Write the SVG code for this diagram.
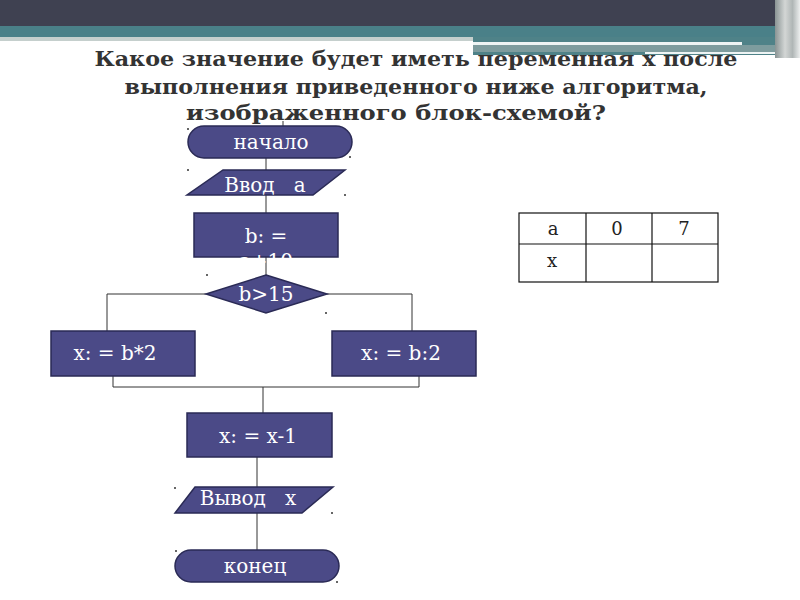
<svg xmlns="http://www.w3.org/2000/svg" width="800" height="600" viewBox="0 0 800 600">
  <defs>
    <linearGradient id="edge" x1="0" y1="0" x2="1" y2="0">
      <stop offset="0" stop-color="#8a9494"/>
      <stop offset="0.4" stop-color="#d3d6d5"/>
      <stop offset="0.7" stop-color="#b0b6b6"/>
      <stop offset="1" stop-color="#eceeee"/>
    </linearGradient>
  </defs>
  <style>
    .shape { fill: #4b4a87; stroke: #2a2a55; stroke-width: 1.5; }
    .lbl { font-family: "DejaVu Serif", "Liberation Serif", serif; font-size: 20px; fill: #ffffff; text-anchor: middle; }
    .title { font-family: "DejaVu Serif", "Liberation Serif", serif; font-size: 20px; font-weight: bold; fill: #333333; text-anchor: middle; }
    .conn { stroke: #333333; stroke-width: 1; fill: none; }
    .cell { font-family: "DejaVu Serif", "Liberation Serif", serif; font-size: 18px; fill: #222222; text-anchor: middle; }
    .grid { stroke: #111111; stroke-width: 1.2; fill: none; }
    .dot { fill: #333333; }
  </style>

  <rect width="800" height="600" fill="#ffffff"/>

  <!-- header bands -->
  <g id="header">
    <rect x="0" y="0" width="800" height="27" fill="#3f4151"/>
    <rect x="0" y="26" width="775" height="11" fill="#4a8088"/>
    <rect x="0" y="37" width="473" height="4" fill="#c5cfcd"/>
    <rect x="473" y="37" width="302" height="18" fill="#4f8288"/>
    <rect x="473" y="45" width="302" height="7" fill="#7e9c9e"/>
    <rect x="473" y="42" width="269" height="3" fill="#eef4f4"/>
    <rect x="645" y="52" width="140" height="2" fill="#eef4f4"/>
    <rect x="775" y="0" width="25" height="58" fill="url(#edge)"/>
  </g>

  <!-- title -->
  <g id="title">
    <text class="title" x="416" y="66" textLength="643" lengthAdjust="spacingAndGlyphs">Какое значение будет иметь переменная x после</text>
    <text class="title" x="416" y="94" textLength="583" lengthAdjust="spacingAndGlyphs">выполнения приведенного ниже алгоритма,</text>
    <text class="title" x="396" y="120" textLength="420" lengthAdjust="spacingAndGlyphs">изображенного блок-схемой?</text>
  </g>

  <!-- connectors -->
  <g id="connectors">
    <line class="conn" x1="283" y1="121" x2="283" y2="126"/>
    <line class="conn" x1="266" y1="158" x2="266" y2="213"/>
    <line class="conn" x1="266" y1="257" x2="266" y2="275"/>
    <polyline class="conn" points="206,294 107,294 107,331"/>
    <polyline class="conn" points="327,294 412,294 412,331"/>
    <polyline class="conn" points="113,376 113,387 419,387 419,376"/>
    <line class="conn" x1="263" y1="387" x2="263" y2="413"/>
    <line class="conn" x1="257" y1="457" x2="257" y2="487"/>
    <line class="conn" x1="257" y1="513" x2="257" y2="550"/>
  </g>

  <!-- nodes -->
  <g id="start">
    <rect class="shape" x="188" y="126" width="164" height="32" rx="16" ry="16"/>
    <text class="lbl" x="271" y="149">начало</text>
  </g>

  <g id="input">
    <polygon class="shape" points="223,170 345,170 313,195 187,195"/>
    <text class="lbl" x="265" y="192" xml:space="preserve">Ввод   а</text>
  </g>

  <g id="assign-b">
    <rect class="shape" x="194" y="213" width="144" height="44"/>
    <text class="lbl" x="266" y="243">b: =</text>
    <text class="lbl" x="266" y="268">а+10</text>
  </g>

  <g id="decision">
    <polygon class="shape" points="266,275 327,294 266,313 206,294"/>
    <text class="lbl" x="266" y="301">b&gt;15</text>
  </g>

  <g id="left-branch">
    <rect class="shape" x="51" y="331" width="144" height="45"/>
    <text class="lbl" x="115" y="360">x: = b*2</text>
  </g>

  <g id="right-branch">
    <rect class="shape" x="332" y="331" width="144" height="45"/>
    <text class="lbl" x="401" y="360">x: = b:2</text>
  </g>

  <g id="decrement">
    <rect class="shape" x="187" y="413" width="145" height="44"/>
    <text class="lbl" x="258" y="443">x: = x-1</text>
  </g>

  <g id="output">
    <polygon class="shape" points="195,487 333,487 302,513 175,513"/>
    <text class="lbl" x="248" y="505" xml:space="preserve">Вывод   х</text>
  </g>

  <g id="end">
    <rect class="shape" x="175" y="550" width="164" height="32" rx="16" ry="16"/>
    <text class="lbl" x="255" y="573">конец</text>
  </g>

  <!-- small handle dots -->
  <g id="dots">
    <circle class="dot" cx="188" cy="129" r="1"/>
    <circle class="dot" cx="350" cy="157" r="1"/>
    <circle class="dot" cx="188" cy="170" r="1"/>
    <circle class="dot" cx="345" cy="195" r="1"/>
    <circle class="dot" cx="207" cy="275" r="1"/>
    <circle class="dot" cx="326" cy="313" r="1"/>
    <circle class="dot" cx="175" cy="488" r="1"/>
    <circle class="dot" cx="332" cy="513" r="1"/>
    <circle class="dot" cx="176" cy="551" r="1"/>
    <circle class="dot" cx="337" cy="582" r="1"/>
  </g>

  <!-- table -->
  <g id="table">
    <rect class="grid" x="519" y="213" width="199" height="69"/>
    <line class="grid" x1="586" y1="213" x2="586" y2="282"/>
    <line class="grid" x1="652" y1="213" x2="652" y2="282"/>
    <line class="grid" x1="519" y1="244" x2="718" y2="244"/>
    <text class="cell" x="553" y="235">a</text>
    <text class="cell" x="617" y="235">0</text>
    <text class="cell" x="684" y="235">7</text>
    <text class="cell" x="552" y="267">x</text>
  </g>
</svg>
